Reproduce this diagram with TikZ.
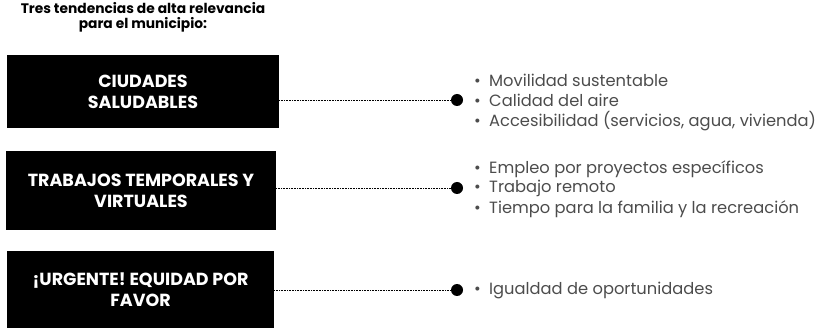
\documentclass[tikz,border=0pt]{standalone}
\usepackage{fontspec}
\setmainfont{Poppins}
\usetikzlibrary{positioning}
\tikzset{
  trendbox/.style={fill=black,text=white,font=\bfseries\fontsize{17.5bp}{21bp}\selectfont,align=center,inner sep=0pt},
  hub/.style={circle,fill=black,inner sep=0pt,minimum size=12bp},
  itemtext/.style={anchor=west,inner sep=0pt,text=black!70,font=\fontsize{16.3bp}{18bp}\selectfont},
  link/.style={black,densely dotted,line width=0.6bp},
}
\newcommand{\itm}[1]{\makebox[15bp][l]{\textbullet}#1}
\begin{document}
\begin{tikzpicture}[>=latex,line join=bevel,]
\useasboundingbox (0bp,0bp) rectangle (823bp,328bp);
%%
\node (title) at (143.0bp,310.5bp) [align=center,inner sep=0pt,font=\bfseries\fontsize{13.8bp}{15bp}\selectfont] {Tres tendencias de alta relevancia\\para el municipio:};
  \node (box_0) at (143.0bp,236.5bp) [trendbox,minimum width=272bp,minimum height=73bp] {CIUDADES\\SALUDABLES};
  \node (box_1) at (141.0bp,137.5bp) [trendbox,minimum width=270bp,minimum height=79bp] {TRABAJOS TEMPORALES Y\\VIRTUALES};
  \node (box_2) at (140.5bp,38.5bp) [trendbox,minimum width=267bp,minimum height=77bp] {¡URGENTE! EQUIDAD POR\\FAVOR};
  \node (hub_0) at (457.0bp,228.0bp) [hub] {};
  \node (hub_1) at (457.0bp,140.0bp) [hub] {};
  \node (hub_2) at (457.0bp,38.0bp) [hub] {};
  \node (item_0a) at (474.0bp,248.0bp) [itemtext] {\itm{Movilidad sustentable}};
  \node (item_0b) at (474.0bp,228.0bp) [itemtext] {\itm{Calidad del aire}};
  \node (item_0c) at (474.0bp,207.0bp) [itemtext] {\itm{Accesibilidad (servicios, agua, vivienda)}};
  \node (item_1a) at (474.0bp,159.0bp) [itemtext] {\itm{Empleo por proyectos específicos}};
  \node (item_1b) at (474.0bp,140.0bp) [itemtext] {\itm{Trabajo remoto}};
  \node (item_1c) at (474.0bp,119.0bp) [itemtext] {\itm{Tiempo para la familia y la recreación}};
  \node (item_2a) at (474.0bp,38.0bp) [itemtext] {\itm{Igualdad de oportunidades}};
  \draw [link] (hub_0 -| box_0.east) -- (hub_0);
  \draw [link] (hub_1 -| box_1.east) -- (hub_1);
  \draw [link] (hub_2 -| box_2.east) -- (hub_2);
%
\end{tikzpicture}
\end{document}
